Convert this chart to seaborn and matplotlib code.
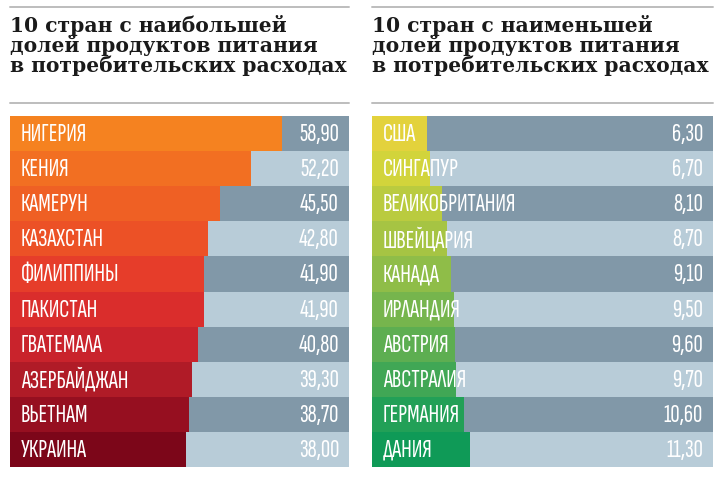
import matplotlib
matplotlib.use('Agg')
import matplotlib.pyplot as plt
import seaborn as sns
import pandas as pd

# data
top_countries = ['НИГЕРИЯ', 'КЕНИЯ', 'КАМЕРУН', 'КАЗАХСТАН', 'ФИЛИППИНЫ',
                 'ПАКИСТАН', 'ГВАТЕМАЛА', 'АЗЕРБАЙДЖАН', 'ВЬЕТНАМ', 'УКРАИНА']
top_values = [58.90, 52.20, 45.50, 42.80, 41.90, 41.90, 40.80, 39.30, 38.70, 38.00]
top_colors = ['#F58220', '#F26F22', '#EF6024', '#EC5126', '#E63D2A',
              '#DA2D2C', '#C9232C', '#B01B27', '#960F20', '#7C0619']

low_countries = ['США', 'СИНГАПУР', 'ВЕЛИКОБРИТАНИЯ', 'ШВЕЙЦАРИЯ', 'КАНАДА',
                 'ИРЛАНДИЯ', 'АВСТРИЯ', 'АВСТРАЛИЯ', 'ГЕРМАНИЯ', 'ДАНИЯ']
low_values = [6.30, 6.70, 8.10, 8.70, 9.10, 9.50, 9.60, 9.70, 10.60, 11.30]
low_colors = ['#E3D23C', '#D2D43B', '#BACB3F', '#A6C443', '#8FBD48',
              '#76B54D', '#5DAE51', '#40A755', '#22A057', '#0F9A57']

titles = [['10 стран с наибольшей', 'долей продуктов питания', 'в потребительских расходах'],
          ['10 стран с наименьшей', 'долей продуктов питания', 'в потребительских расходах']]

sns.set_theme(style='white')
plt.rcParams['font.family'] = ['DejaVu Sans']

W, H = 728, 480
fig = plt.figure(figsize=(W / 100, H / 100), dpi=100)
fig.patch.set_facecolor('white')

label_font = ['Sofia Sans Extra Condensed', 'Oswald', 'DejaVu Sans']
title_font = ['DejaVu Serif']
bg_dark, bg_light = '#8198A8', '#B8CCD8'

panels = [
    (10, 339, top_countries, top_values, top_colors, 73.4, titles[0]),
    (372, 341, low_countries, low_values, low_colors, 39.4, titles[1]),
]

for x0, w, countries, values, colors, xmax, title in panels:
    ax = fig.add_axes([x0 / W, (H - 467) / H, w / W, 351 / H])
    df = pd.DataFrame({'country': countries, 'value': values})
    for i in range(len(countries)):
        ax.axhspan(i - 0.5, i + 0.5, color=bg_dark if i % 2 == 0 else bg_light, lw=0, zorder=0)
    sns.barplot(data=df, x='value', y='country', hue='country', palette=colors,
                saturation=1, legend=False, width=1.0, orient='h', ax=ax,
                linewidth=0, zorder=2)
    ax.set_xlim(0, xmax)
    ax.set_ylim(len(countries) - 0.5, -0.5)
    ax.axis('off')
    for i, (c, v) in enumerate(zip(countries, values)):
        ax.annotate(c, xy=(0, i), xycoords=('axes fraction', 'data'),
                    xytext=(11, -1), textcoords='offset pixels', ha='left', va='center',
                    color='white', fontsize=18.5, fontweight='bold', family=label_font, zorder=3)
        ax.annotate(f'{v:.2f}'.replace('.', ','), xy=(1, i), xycoords=('axes fraction', 'data'),
                    xytext=(-10, -1), textcoords='offset pixels', ha='right', va='center',
                    color='white', fontsize=18.5, fontweight='medium', family=label_font, zorder=3)

    # rules and title
    for yy in (6.5, 103):
        fig.add_artist(plt.Line2D([x0 / W, (x0 + w) / W], [1 - yy / H, 1 - yy / H],
                                  color='#BDBDBD', lw=1.4))
    for k, line in enumerate(title):
        fig.text(x0 / W, 1 - (32 + 20 * k) / H, line, ha='left', va='baseline',
                 fontsize=14.6, fontweight='bold', family=title_font, color='#1A1A1A')

fig.savefig('out.png', dpi=100, facecolor='white')
